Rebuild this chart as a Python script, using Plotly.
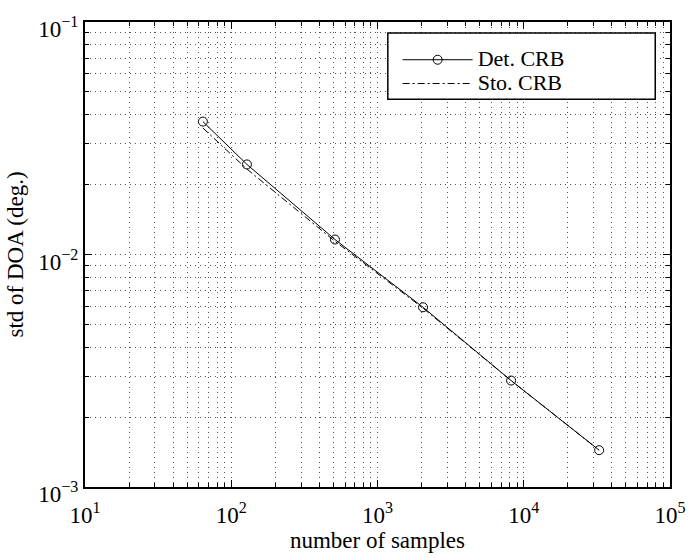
import plotly.graph_objects as go

# number of snapshots and the two Cramér-Rao bounds (degrees)
samples = [64, 128, 512, 2048, 8192, 32768]
det_crb = [0.0373, 0.0244, 0.0116, 0.00593, 0.00287, 0.00144]
sto_crb = [0.0350, 0.0233, 0.0114, 0.00588, 0.00287, 0.00144]
series_names = ["Det. CRB", "Sto. CRB"]

x_major = [10, 100, 1000, 10000, 100000]
x_major_text = ["10<sup>1</sup>", "10<sup>2</sup>", "10<sup>3</sup>", "10<sup>4</sup>", "10<sup>5</sup>"]
y_major = [0.001, 0.01, 0.1]
y_major_text = ["10<sup>\u22123</sup>", "10<sup>\u22122</sup>", "10<sup>\u22121</sup>"]

x_minor = [m * 10 ** e for e in range(1, 5) for m in range(2, 10)]
y_minor = [m * 10 ** e for e in (-3, -2) for m in range(2, 10)]

FONT = "Liberation Serif"
GRID = dict(showgrid=True, gridcolor="#555", griddash="1px,4px", gridwidth=1)

# figure / margin geometry in pixels
W, H = 698, 558
ML, MR, MT, MB = 85, 18, 22, 67
PW, PH = W - ML - MR, H - MT - MB


def px_x(px):
    return (px - ML) / PW


def px_y(py):
    return (H - MB - py) / PH


def legend_label(s):
    return f'<span style="font-size:22px">{s}</span>'


fig = go.Figure()
fig.add_trace(go.Scatter(
    x=samples, y=det_crb, name=legend_label(series_names[0]), mode="lines+markers",
    line=dict(color="black", width=1),
    marker=dict(symbol="circle-open", size=9, color="black", line=dict(width=1)),
))
fig.add_trace(go.Scatter(
    x=samples, y=sto_crb, name=legend_label(series_names[1]), mode="lines",
    line=dict(color="black", width=1, dash="7px,3px,2px,3px"),
))

axis_common = dict(
    type="log",
    showline=True, linecolor="black", linewidth=2,
    mirror="ticks", ticks="inside", ticklen=7, tickcolor="black", tickwidth=1,
    zeroline=False,
    tickfont=dict(family=FONT, size=23, color="black"),
    title_font=dict(family=FONT, size=23, color="black"),
    **GRID,
)

fig.update_xaxes(
    **axis_common,
    range=[1, 5],
    tickmode="array", tickvals=x_major, ticktext=x_major_text,
    minor=dict(tickmode="array", tickvals=x_minor, ticks="inside", ticklen=4,
               tickcolor="black", **GRID),
    ticklabelstandoff=6,
    title_text="number of samples", title_standoff=2,
)
fig.update_yaxes(
    **axis_common,
    range=[-3, -1],
    tickmode="array", tickvals=y_major, ticktext=y_major_text,
    minor=dict(tickmode="array", tickvals=y_minor, ticks="inside", ticklen=4,
               tickcolor="black", **GRID),
    ticklabelshift=7,
    title_text="std of DOA (deg.)", title_standoff=8,
)

# white framed box behind the legend entries
fig.add_shape(
    type="rect", xref="paper", yref="paper",
    x0=px_x(393), x1=px_x(665), y0=px_y(100), y1=px_y(33),
    line=dict(color="black", width=1.5), fillcolor="white", layer="above",
)

fig.update_layout(
    width=W, height=H,
    margin=dict(l=ML, r=MR, t=MT, b=MB),
    plot_bgcolor="white", paper_bgcolor="white",
    font=dict(family=FONT, color="black"),
    legend=dict(
        x=px_x(403), y=px_y(43), xanchor="left", yanchor="top",
        bgcolor="rgba(0,0,0,0)", borderwidth=0,
        font=dict(family=FONT, size=16, color="black"),
        itemwidth=70, tracegroupgap=0,
    ),
)

fig.write_html("out.html")
